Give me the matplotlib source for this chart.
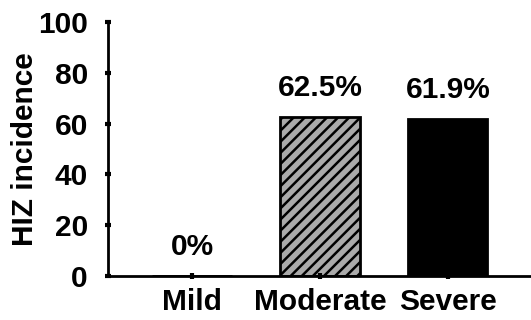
import matplotlib.pyplot as plt

categories = ["Mild", "Moderate", "Severe"]
values = [0, 62.5, 61.9]
labels = ["0%", "62.5%", "61.9%"]

plt.rcParams['font.family'] = ['Liberation Sans', 'DejaVu Sans']
plt.rcParams['font.weight'] = 'bold'
plt.rcParams['hatch.linewidth'] = 1.8

fig = plt.figure(figsize=(5.31, 3.2), dpi=100)
ax = fig.add_axes([0.2034, 0.1375, 0.7966, 0.79375])

x = range(len(categories))
bars = ax.bar(x, values, width=0.62, color=['white', '#aaaaaa', 'black'],
              edgecolor='black', linewidth=2)
bars[1].set_hatch('///')

# percentage labels above bars
for xi, v, lab in zip(x, values, labels):
    ax.text(xi, v + 6, lab, ha='center', va='bottom', fontsize=21.5, fontweight='bold')

ax.set_xlim(-0.656, 2.65)
ax.set_ylim(0, 100)
ax.set_yticks([0, 20, 40, 60, 80, 100])
ax.set_xticks(list(x))
ax.set_xticklabels(categories)
ax.set_ylabel("HIZ incidence", fontsize=21.5, fontweight='bold', labelpad=-1)

for s in ['top', 'right']:
    ax.spines[s].set_visible(False)
for s in ['left', 'bottom']:
    ax.spines[s].set_linewidth(2)
ax.tick_params(axis='both', direction='inout', length=5, width=3, labelsize=21.5)
ax.tick_params(axis='y', pad=12)
ax.tick_params(axis='x', pad=6)

fig.savefig("out.png", dpi=100)
